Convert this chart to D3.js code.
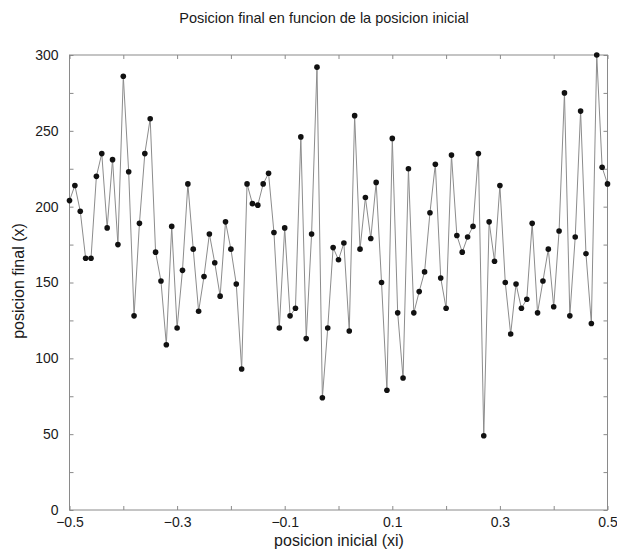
<!DOCTYPE html>
<html>
<head>
<meta charset="utf-8">
<script src="https://cdn.jsdelivr.net/npm/d3@7"></script>
<style>
  html, body { margin: 0; padding: 0; background: #fff; }
  svg { display: block; font-family: "Liberation Sans", Arial, sans-serif; }
</style>
</head>
<body>
<svg id="chart" width="617" height="550"></svg>
<script>
// Initial positions: -0.5 to 0.5 in steps of 0.01
const xi = d3.range(101).map(i => +(-0.5 + i * 0.01).toFixed(2));

// Final positions for each initial position
const xFinal = [
  204, 214, 197, 166, 166, 220, 235, 186, 231, 175,
  286, 223, 128, 189, 235, 258, 170, 151, 109, 187,
  120, 158, 215, 172, 131, 154, 182, 163, 141, 190,
  172, 149, 93, 215, 202, 201, 215, 222, 183, 120,
  186, 128, 133, 246, 113, 182, 292, 74, 120, 173,
  165, 176, 118, 260, 172, 206, 179, 216, 150, 79,
  245, 130, 87, 225, 130, 144, 157, 196, 228, 153,
  133, 234, 181, 170, 180, 187, 235, 49, 190, 164,
  214, 150, 116, 149, 133, 139, 189, 130, 151, 172,
  134, 184, 275, 128, 180, 263, 169, 123, 300, 226, 215
];

const xTickLabels = [-0.5, -0.3, -0.1, 0.1, 0.3, 0.5];
const yTickLabels = [0, 50, 100, 150, 200, 250, 300];

const svg = d3.select("#chart");
const plotLeft = 69.5, plotRight = 607.5, plotTop = 55, plotBottom = 510;

const x = d3.scaleLinear().domain([-0.5, 0.5]).range([plotLeft, plotRight]);
const y = d3.scaleLinear().domain([0, 300]).range([plotBottom, plotTop]);

const frameColor = "#8a8a8a";
const textColor = "#1a1a1a";

// Title
svg.append("text")
  .attr("x", 324).attr("y", 23)
  .attr("text-anchor", "middle")
  .attr("font-size", 14.5)
  .attr("fill", textColor)
  .text("Posicion final en funcion de la posicion inicial");

// Axes with inward ticks
const xMinor = d3.range(11).map(i => +(-0.5 + i * 0.1).toFixed(1));
const yMinor = d3.range(13).map(i => i * 25);
const fmtX = d => d === 0 ? "0" : (d < 0 ? "\u2212" + Math.abs(d).toFixed(1) : d.toFixed(1));

function styleAxis(g) {
  g.select(".domain").remove();
  g.selectAll(".tick line").attr("stroke", frameColor);
  g.selectAll(".tick text").attr("fill", textColor).attr("font-size", 14);
}

// bottom ticks (unlabelled, every 0.1)
svg.append("g").attr("transform", `translate(0,${plotBottom})`)
  .call(d3.axisBottom(x).tickValues(xMinor).tickSize(-4).tickFormat(""))
  .call(styleAxis);
// bottom labels
svg.append("g").attr("transform", `translate(0,${plotBottom})`)
  .call(d3.axisBottom(x).tickValues(xTickLabels).tickSize(0).tickPadding(7).tickFormat(fmtX))
  .call(styleAxis);
// top ticks
svg.append("g").attr("transform", `translate(0,${plotTop})`)
  .call(d3.axisTop(x).tickValues(xMinor).tickSize(-4).tickFormat(""))
  .call(styleAxis);
// left ticks
svg.append("g").attr("transform", `translate(${plotLeft},0)`)
  .call(d3.axisLeft(y).tickValues(yMinor).tickSize(-4).tickFormat(""))
  .call(styleAxis);
// left labels
svg.append("g").attr("transform", `translate(${plotLeft},0)`)
  .call(d3.axisLeft(y).tickValues(yTickLabels).tickSize(0).tickPadding(11).tickFormat(d3.format("d")))
  .call(styleAxis);
// right ticks
svg.append("g").attr("transform", `translate(${plotRight},0)`)
  .call(d3.axisRight(y).tickValues(yMinor).tickSize(-4).tickFormat(""))
  .call(styleAxis);

// Frame
svg.append("rect")
  .attr("x", plotLeft).attr("y", plotTop)
  .attr("width", plotRight - plotLeft).attr("height", plotBottom - plotTop)
  .attr("fill", "none")
  .attr("stroke", frameColor)
  .attr("stroke-width", 1);

// Axis titles
svg.append("text")
  .attr("x", 339).attr("y", 546)
  .attr("text-anchor", "middle")
  .attr("font-size", 16)
  .attr("fill", textColor)
  .text("posicion inicial (xi)");

svg.append("text")
  .attr("transform", `translate(24,281) rotate(-90)`)
  .attr("text-anchor", "middle")
  .attr("font-size", 16)
  .attr("fill", textColor)
  .text("posicion final (x)");

// Data line and points
const data = xi.map((v, i) => ({ xi: v, x: xFinal[i] }));

svg.append("path")
  .datum(data)
  .attr("fill", "none")
  .attr("stroke", "#8c8c8c")
  .attr("stroke-width", 1)
  .attr("d", d3.line().x(d => x(d.xi)).y(d => y(d.x)));

svg.append("g")
  .selectAll("circle")
  .data(data)
  .join("circle")
  .attr("cx", d => x(d.xi))
  .attr("cy", d => y(d.x))
  .attr("r", 2.8)
  .attr("fill", "#111");
</script>
</body>
</html>
